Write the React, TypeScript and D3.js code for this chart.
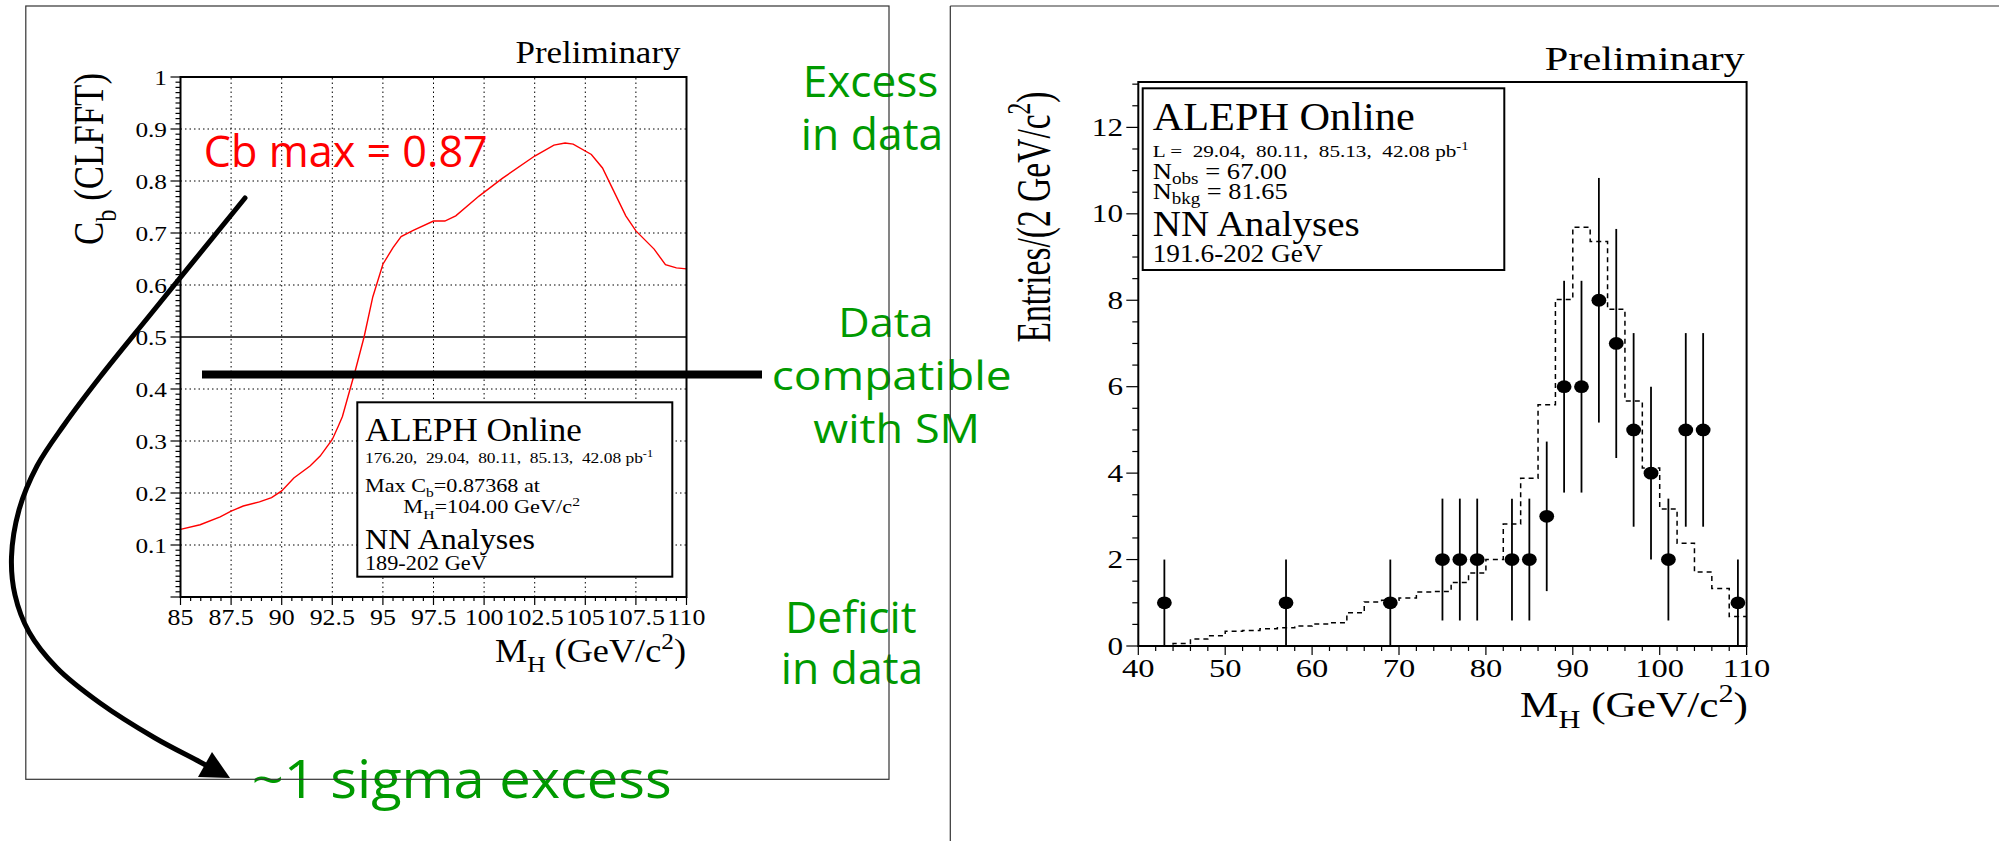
import React from 'react';
import * as d3 from 'd3';

const SERIF = '"Liberation Serif", "Times New Roman", serif';
const SANS = '"Open Sans", "Noto Sans", sans-serif';
const GREEN = '#009a00';

// ---------- Left chart: C_b (CLFFT) versus M_H ----------
const cbMass = [85, 85.97, 86.96, 87.5, 88.1, 88.9, 89.5, 90, 90.6, 91.4, 91.9, 92.5, 92.8, 93.0, 93.64, 94.07, 94.5, 95.0, 95.5, 95.9, 96.5, 97.5, 98.06, 98.6, 99.75, 100.9, 102.5, 103.45, 104, 104.4, 105.3, 105.85, 106.4, 107.0, 107.5, 108.4, 108.96, 109.5, 110];
const cbValue = [0.130, 0.139, 0.154, 0.165, 0.175, 0.183, 0.191, 0.204, 0.229, 0.252, 0.271, 0.303, 0.329, 0.347, 0.436, 0.5, 0.577, 0.640, 0.672, 0.693, 0.705, 0.723, 0.723, 0.733, 0.771, 0.805, 0.848, 0.869, 0.873, 0.871, 0.851, 0.825, 0.781, 0.733, 0.704, 0.669, 0.639, 0.633, 0.631];
const leftXTicks = [85, 87.5, 90, 92.5, 95, 97.5, 100, 102.5, 105, 107.5, 110];
const leftXTickLabels = ['85', '87.5', '90', '92.5', '95', '97.5', '100', '102.5', '105', '107.5', '110'];
const leftYTicks = [0.1, 0.2, 0.3, 0.4, 0.5, 0.6, 0.7, 0.8, 0.9, 1];
const leftYTickLabels = ['0.1', '0.2', '0.3', '0.4', '0.5', '0.6', '0.7', '0.8', '0.9', '1'];

// ---------- Right chart: mass distribution ----------
const binLow = [40, 42, 44, 46, 48, 50, 52, 54, 56, 58, 60, 62, 64, 66, 68, 70, 72, 74, 76, 78, 80, 82, 84, 86, 88, 90, 92, 94, 96, 98, 100, 102, 104, 106, 108];
const bkgCounts = [0.0, 0.0, 0.06, 0.16, 0.24, 0.34, 0.36, 0.40, 0.42, 0.46, 0.51, 0.54, 0.77, 1.02, 1.06, 1.11, 1.25, 1.26, 1.47, 1.69, 2.0, 2.82, 3.88, 5.58, 8.02, 9.69, 9.36, 7.79, 5.67, 4.12, 3.17, 2.38, 1.71, 1.33, 0.68];
const obsMass = [43, 57, 69, 75, 77, 79, 83, 85, 87, 89, 91, 93, 95, 97, 99, 101, 103, 105, 109];
const obsCounts = [1, 1, 1, 2, 2, 2, 2, 2, 3, 6, 6, 8, 7, 5, 4, 2, 5, 5, 1];
const obsErr = [1, 1, 1, 1.41, 1.41, 1.41, 1.41, 1.41, 1.73, 2.45, 2.45, 2.83, 2.65, 2.24, 2, 1.41, 2.24, 2.24, 1];
const rightXTicks = [40, 50, 60, 70, 80, 90, 100, 110];
const rightXTickLabels = ['40', '50', '60', '70', '80', '90', '100', '110'];
const rightYTicks = [0, 2, 4, 6, 8, 10, 12];
const rightYTickLabels = ['0', '2', '4', '6', '8', '10', '12'];

// annotation arrow geometry (page pixels)
const arrowPath: [number, number][] = [
  [245, 198], [150, 315], [100, 377], [64, 425], [37, 466], [19, 510], [11.5, 557],
  [15, 595], [29, 632], [57, 668], [100, 703], [155, 738], [200, 762], [222, 774],
];
const arrowHead: [number, number][] = [[230, 778], [212, 752], [198, 777]];

type TP = {
  x: number; y: number; size: number; anchor?: 'start' | 'middle' | 'end'; len?: number; sx?: number;
  family?: string; fill?: string; weight?: string | number; rotate?: boolean; children: React.ReactNode;
};
function Txt({ x, y, size, anchor = 'start', len, sx = 1, family = SERIF, fill = '#000', weight = 'normal', rotate = false, children }: TP) {
  const tr = `translate(${x},${y}) scale(${sx},1)${rotate ? ' rotate(-90)' : ''}`;
  const extra: any = {};
  if (len) {
    extra.textLength = rotate ? len : len / sx;
    extra.lengthAdjust = 'spacingAndGlyphs';
  }
  return (
    <text transform={tr} fontSize={size} fontFamily={family} fill={fill} fontWeight={weight}
      textAnchor={anchor} style={{ whiteSpace: 'pre' }} {...extra}>{children}</text>
  );
}
const Sub = ({ s, children, k = 0.3, f = 0.7 }: { s: number; children: React.ReactNode; k?: number; f?: number }) => (
  <tspan dy={s * k} fontSize={s * f}>{children}</tspan>
);
const Sup = ({ s, children }: { s: number; children: React.ReactNode }) => (
  <tspan dy={-s * 0.4} fontSize={s * 0.7}>{children}</tspan>
);

export default function App() {
  // left scales
  const lx = d3.scaleLinear().domain([85, 110]).range([180.5, 686.5]);
  const ly = d3.scaleLinear().domain([0, 1]).range([597, 77]);
  // right scales
  const rx = d3.scaleLinear().domain([40, 110]).range([1138.3, 1746.6]);
  const ry = d3.scaleLinear().domain([0, 13.05]).range([646, 82]);

  const cbLine = d3.line<number>().x((_, i) => lx(cbMass[i])).y((d) => ly(d))(cbValue) || '';

  const histPts: [number, number][] = binLow.map((b, i) => [b, bkgCounts[i]]);
  histPts.push([110, bkgCounts[bkgCounts.length - 1]]);
  const histLine = d3.line<[number, number]>().x((d) => rx(d[0])).y((d) => ry(d[1])).curve(d3.curveStepAfter)(histPts) || '';

  const arrowLine = d3.line<[number, number]>().x((d) => d[0]).y((d) => d[1]).curve(d3.curveCatmullRom.alpha(0.5))(arrowPath) || '';
  const headPath = d3.line<[number, number]>().x((d) => d[0]).y((d) => d[1])(arrowHead) + 'Z';

  const lxMinor = d3.range(85, 110.001, 0.5);
  const lyMinor = d3.range(0, 1.0001, 0.01);
  const rxMinor = d3.range(40, 110.001, 2);
  const ryMinor = d3.range(0, 13.01, 0.5);

  const [lx0, lx1] = lx.range();
  const [ly0, ly1] = ly.range();
  const [rx0, rx1] = rx.range();
  const [ry0, ry1] = ry.range();

  return (
    <svg width={1999} height={841} style={{ position: 'absolute', left: 0, top: 0, background: '#fff' }}>
      <rect x={0} y={0} width={1999} height={841} fill="#fff" />

      {/* ================= LEFT CHART ================= */}
      <Txt x={515.5} y={63} size={31} len={165}>Preliminary</Txt>

      {/* grid */}
      {leftXTicks.slice(1, -1).map((t) => (
        <line key={'gx' + t} x1={lx(t)} x2={lx(t)} y1={ly0} y2={ly1} stroke="#000" strokeWidth={1} strokeDasharray="1.5,3" />
      ))}
      {leftYTicks.filter((t) => t !== 0.5 && t !== 1).map((t) => (
        <line key={'gy' + t} x1={lx0} x2={lx1} y1={ly(t)} y2={ly(t)} stroke="#000" strokeWidth={1} strokeDasharray="1.5,3" />
      ))}
      <line x1={lx0} x2={lx1} y1={ly(0.5)} y2={ly(0.5)} stroke="#000" strokeWidth={1.5} />

      {/* red curve */}
      <path d={cbLine} fill="none" stroke="#ff0000" strokeWidth={1.4} />

      {/* legend box */}
      <rect x={357.3} y={402.3} width={315} height={174.4} fill="#fff" stroke="#000" strokeWidth={2} />
      <Txt x={365} y={440.7} size={33} len={216.7}>ALEPH Online</Txt>
      <Txt x={365} y={463.3} size={15} len={288}>176.20,  29.04,  80.11,  85.13,  42.08 pb<Sup s={15}>-1</Sup></Txt>
      <Txt x={365} y={491.7} size={18} len={175}>Max C<Sub s={18}>b</Sub><tspan dy={-18 * 0.3}>=0.87368 at</tspan></Txt>
      <Txt x={403.3} y={513.3} size={18} len={176.7}>M<Sub s={18}>H</Sub><tspan dy={-18 * 0.3}>=104.00 GeV/c</tspan><Sup s={18}>2</Sup></Txt>
      <Txt x={365} y={549} size={29} len={170}>NN Analyses</Txt>
      <Txt x={365} y={570} size={21} len={121.7}>189-202 GeV</Txt>

      {/* frame */}
      <rect x={lx0} y={ly1} width={lx1 - lx0} height={ly0 - ly1} fill="none" stroke="#000" strokeWidth={2} />

      {/* ticks */}
      {lxMinor.map((t) => {
        const major = Math.abs(t / 2.5 - Math.round(t / 2.5)) < 1e-6;
        return <line key={'lxt' + t} x1={lx(t)} x2={lx(t)} y1={ly0} y2={ly0 + (major ? 8 : 4)} stroke="#000" strokeWidth={1.2} />;
      })}
      {lyMinor.map((t) => {
        const major = Math.abs(t * 10 - Math.round(t * 10)) < 1e-6;
        return <line key={'lyt' + t} x1={lx0} x2={lx0 - (major ? 10 : 5)} y1={ly(t)} y2={ly(t)} stroke="#000" strokeWidth={1.2} />;
      })}
      {leftXTicks.map((t, i) => (
        <Txt key={'lxl' + t} x={lx(t)} y={625} size={23.5} sx={1.1} anchor="middle">{leftXTickLabels[i]}</Txt>
      ))}
      {leftYTicks.map((t, i) => (
        <Txt key={'lyl' + t} x={167} y={ly(t) + 7.5} size={22} sx={1.15} anchor="end">{leftYTickLabels[i]}</Txt>
      ))}
      <Txt x={495} y={662} size={33} len={191}>M<Sub s={33}>H</Sub><tspan dy={-33 * 0.3}> (GeV/c</tspan><Sup s={33}>2</Sup><tspan dy={33 * 0.4}>)</tspan></Txt>
      <Txt x={103} y={159} size={34} sx={1.25} rotate anchor="middle" len={172}>C<Sub s={34}>b</Sub><tspan dy={-34 * 0.3}> (CLFFT)</tspan></Txt>

      {/* red annotation */}
      <Txt x={203.8} y={166.7} size={43} family={SANS} fill="#ff0000" len={284}>Cb max = 0.87</Txt>

      {/* ================= RIGHT CHART ================= */}
      <Txt x={1544.8} y={70} size={34} len={200}>Preliminary</Txt>

      <path d={histLine} fill="none" stroke="#000" strokeWidth={1.5} strokeDasharray="5,4" />

      {obsMass.map((m, i) => (
        <g key={'pt' + m}>
          <line x1={rx(m)} x2={rx(m)} y1={ry(Math.max(0, obsCounts[i] - obsErr[i]))} y2={ry(obsCounts[i] + obsErr[i])} stroke="#000" strokeWidth={1.8} />
          <ellipse cx={rx(m)} cy={ry(obsCounts[i])} rx={7.4} ry={6.4} fill="#000" />
        </g>
      ))}

      <rect x={rx0} y={ry1} width={rx1 - rx0} height={ry0 - ry1} fill="none" stroke="#000" strokeWidth={2} />
      {rxMinor.map((t) => {
        const major = t % 10 === 0;
        return <line key={'rxt' + t} x1={rx(t)} x2={rx(t)} y1={ry0} y2={ry0 + (major ? 9 : 5)} stroke="#000" strokeWidth={1.2} />;
      })}
      {ryMinor.map((t) => {
        const major = t % 2 === 0;
        return <line key={'ryt' + t} x1={rx0} x2={rx0 - (major ? 12 : 6)} y1={ry(t)} y2={ry(t)} stroke="#000" strokeWidth={1.2} />;
      })}
      {rightXTicks.map((t, i) => (
        <Txt key={'rxl' + t} x={rx(t)} y={677} size={26} sx={1.25} anchor="middle">{rightXTickLabels[i]}</Txt>
      ))}
      {rightYTicks.map((t, i) => (
        <Txt key={'ryl' + t} x={1123} y={ry(t) + 8.5} size={26} sx={1.2} anchor="end">{rightYTickLabels[i]}</Txt>
      ))}
      <Txt x={1520} y={716.7} size={36} len={228}>M<Sub s={36}>H</Sub><tspan dy={-36 * 0.3}> (GeV/c</tspan><Sup s={36}>2</Sup><tspan dy={36 * 0.4}>)</tspan></Txt>
      <Txt x={1050} y={217} size={35} sx={1.4} rotate anchor="middle" len={251}>Entries/(2 GeV/c<Sup s={35}>2</Sup><tspan dy={35 * 0.4}>)</tspan></Txt>

      {/* legend box */}
      <rect x={1142.7} y={88.3} width={361.6} height={181.7} fill="#fff" stroke="#000" strokeWidth={2} />
      <Txt x={1152.7} y={130} size={39} len={262}>ALEPH Online</Txt>
      <Txt x={1152.7} y={156.5} size={17} len={316}>L =  29.04,  80.11,  85.13,  42.08 pb<Sup s={17}>-1</Sup></Txt>
      <Txt x={1152.7} y={179} size={23} len={134}>N<Sub s={23} k={0.22} f={0.72}>obs</Sub><tspan dy={-23 * 0.22}> = 67.00</tspan></Txt>
      <Txt x={1152.7} y={199} size={23} len={135}>N<Sub s={23} k={0.22} f={0.72}>bkg</Sub><tspan dy={-23 * 0.22}> = 81.65</tspan></Txt>
      <Txt x={1152.7} y={235.5} size={35} len={207}>NN Analyses</Txt>
      <Txt x={1152.7} y={261.7} size={25} len={170}>191.6-202 GeV</Txt>

      {/* ================= ANNOTATIONS ================= */}
      <Txt x={870.5} y={96.7} size={43} family={SANS} fill={GREEN} anchor="middle" len={135.6}>Excess</Txt>
      <Txt x={872} y={150} size={43} family={SANS} fill={GREEN} anchor="middle" len={142.6}>in data</Txt>
      <Txt x={885.8} y={336.7} size={41} family={SANS} fill={GREEN} anchor="middle" len={95}>Data</Txt>
      <Txt x={891.7} y={390} size={41} family={SANS} fill={GREEN} anchor="middle" len={240}>compatible</Txt>
      <Txt x={896.7} y={443.3} size={41} family={SANS} fill={GREEN} anchor="middle" len={166.7}>with SM</Txt>
      <Txt x={850.8} y={632.7} size={43} family={SANS} fill={GREEN} anchor="middle" len={131.7}>Deficit</Txt>
      <Txt x={852} y={684} size={43} family={SANS} fill={GREEN} anchor="middle" len={142.6}>in data</Txt>
      <Txt x={251.7} y={798.3} size={53} family={SANS} fill={GREEN} len={420}>~1 sigma excess</Txt>

      {/* panel frames */}
      <rect x={25.8} y={6} width={863.2} height={773.3} fill="none" stroke="#333" strokeWidth={1.2} />
      <line x1={950.3} x2={950.3} y1={6} y2={841} stroke="#333" strokeWidth={1.2} />
      <line x1={950.3} x2={1999} y1={6} y2={6} stroke="#333" strokeWidth={1.2} />

      {/* black arrow and bar */}
      <rect x={202} y={370.5} width={560} height={8} fill="#000" />
      <path d={arrowLine} fill="none" stroke="#000" strokeWidth={5} strokeLinecap="round" />
      <path d={headPath} fill="#000" />
    </svg>
  );
}
